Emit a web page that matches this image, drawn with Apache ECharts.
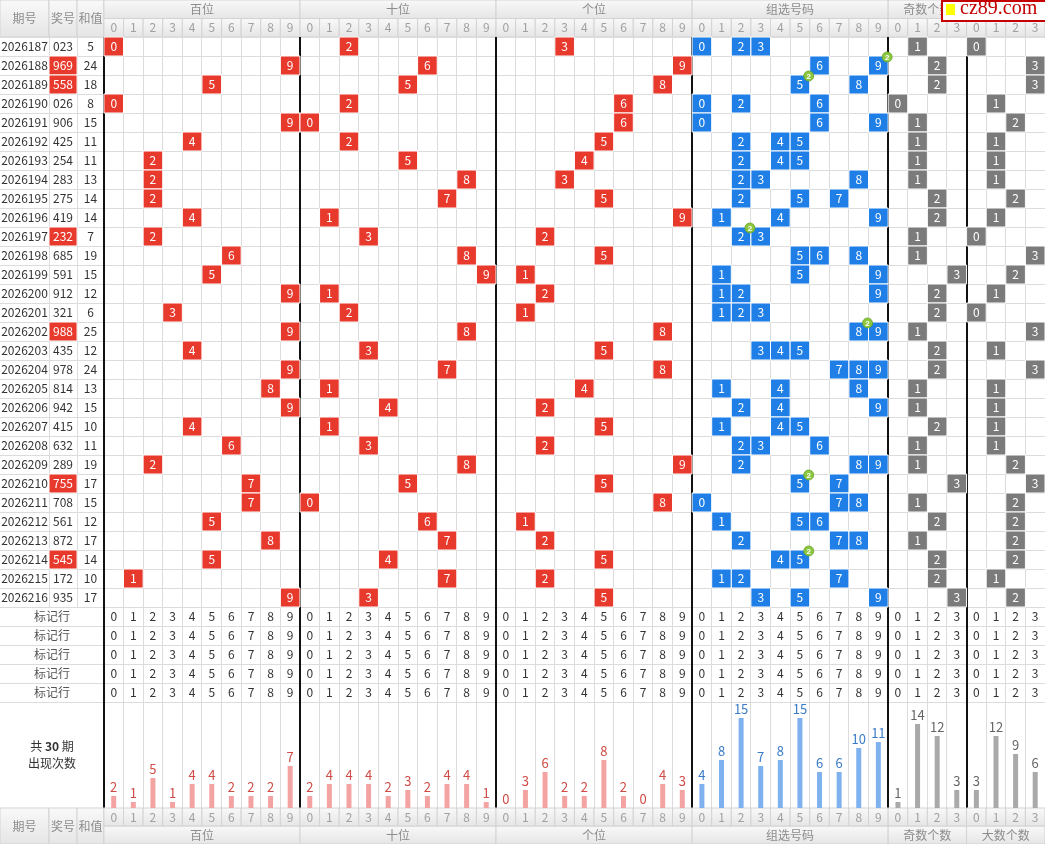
<!DOCTYPE html>
<html>
<head>
<meta charset="utf-8">
<script src="https://cdn.jsdelivr.net/npm/echarts@6/dist/echarts.min.js"></script>
<style>html,body{margin:0;padding:0;background:#fff}#c{width:1045px;height:844px}</style>
</head>
<body>
<div id="c"></div>
<script>
// ---------------- data ----------------
const issues = ['2026187','2026188','2026189','2026190','2026191','2026192','2026193','2026194','2026195','2026196','2026197','2026198','2026199','2026200','2026201','2026202','2026203','2026204','2026205','2026206','2026207','2026208','2026209','2026210','2026211','2026212','2026213','2026214','2026215','2026216'];
const draws = ['023','969','558','026','906','425','254','283','275','419','232','685','591','912','321','988','435','978','814','942','415','632','289','755','708','561','872','545','172','935'];
const sums = [5,24,18,8,15,11,11,13,14,14,7,19,15,12,6,25,12,24,13,15,10,11,19,17,15,12,17,14,10,17];
const groupNames = ['百位','十位','个位','组选号码','奇数个数','大数个数'];
const digitLabels10 = ['0','1','2','3','4','5','6','7','8','9'];
const digitLabels4 = ['0','1','2','3'];
const leftHeaders = ['期号','奖号','和值'];
const markRowLabel = '标记行';
const markRowCount = 5;
const totalLabel = '共 {b|30} 期\n出现次数';
const countBai = [2,1,5,1,4,4,2,2,2,7];
const countShi = [2,4,4,4,2,3,2,4,4,1];
const countGe  = [0,3,6,2,2,8,2,0,4,3];
const countZu  = [4,8,15,7,8,15,6,6,10,11];
const countOdd = [1,14,12,3];
const countBig = [3,12,9,6];
const watermark = 'cz89.com';

// ---------------- layout / style ----------------
const F = '"Microsoft YaHei","Noto Sans CJK SC","Noto Sans",sans-serif';
const XMIN = -5.3, XMAX = 48;
const leftCols = [[-5.3,-2.8],[-2.8,-1.37],[-1.37,0]];
const groupLabels = [digitLabels10,digitLabels10,digitLabels10,digitLabels10,digitLabels4,digitLabels4];
const groupStart = [0,10,20,30,40,44];
const groupCounts = [countBai,countShi,countGe,countZu,countOdd,countBig];
const RED = '#e8392d', BLUE = '#1f7fe6', GRAY = '#7b7b7b';
const barColors = ['#f4a3a3','#f4a3a3','#f4a3a3','#7fb1ef','#a9a9a9','#a9a9a9'];
const labelColors = ['#cf4b45','#cf4b45','#cf4b45','#3b7bc8','#666','#666'];
const cellColors = [RED,RED,RED,BLUE,GRAY,GRAY];
const LINE = '#dcdcdc';
const hdrGrad = {type:'linear',x:0,y:0,x2:0,y2:1,colorStops:[{offset:0,color:'#f9f9f9'},{offset:1,color:'#e5e5e5'}]};

// ---------------- build cell lists ----------------
function hdrCell(x0,x1,y0,y1,text,color){
  return {x0,x1,y0,y1,text,bg:hdrGrad,stroke:'#d3d3d3',color:color||'#8c8c8c',font:'12px '+F};
}
const header = [], footer = [];
leftHeaders.forEach((t,i)=>{
  header.push(hdrCell(leftCols[i][0],leftCols[i][1],0,2,t));
  footer.push(hdrCell(leftCols[i][0],leftCols[i][1],0,2,t));
});
groupNames.forEach((name,g)=>{
  const s = groupStart[g], labs = groupLabels[g];
  header.push(hdrCell(s,s+labs.length,0,1,name));
  footer.push(hdrCell(s,s+labs.length,1,2,name));
  labs.forEach((l,k)=>{
    header.push(hdrCell(s+k,s+k+1,1,2,l,'#a0a0a0'));
    footer.push(hdrCell(s+k,s+k+1,0,1,l,'#a0a0a0'));
  });
});

const cells = [], badges = [];
const txt = (x0,x1,y0,y1,text,color,extra)=>Object.assign({x0,x1,y0,y1,text,color:color||'#333',font:'12px '+F},extra||{});
draws.forEach((d,r)=>{
  const ds = d.split('').map(Number);
  const repeated = new Set(ds).size < 3;
  cells.push(txt(leftCols[0][0],leftCols[0][1],r,r+1,issues[r],'#333'));
  cells.push(txt(leftCols[1][0],leftCols[1][1],r,r+1,d,repeated?'#fff':'#333',repeated?{bg:RED,stroke:'#fff'}:{}));
  cells.push(txt(leftCols[2][0],leftCols[2][1],r,r+1,String(sums[r]),'#333'));
  ds.forEach((v,p)=>{
    const c = groupStart[p]+v;
    cells.push(txt(c,c+1,r,r+1,String(v),'#fff',{bg:cellColors[p],stroke:'#fff'}));
  });
  const cnt = {};
  ds.forEach(v=>cnt[v]=(cnt[v]||0)+1);
  Object.keys(cnt).forEach(k=>{
    const v = Number(k), c = groupStart[3]+v;
    cells.push(txt(c,c+1,r,r+1,String(v),'#fff',{bg:BLUE,stroke:'#fff'}));
    if (cnt[k]>1) badges.push({x0:c,x1:c+1,y0:r,y1:r+1,text:String(cnt[k])});
  });
  const odd = ds.filter(v=>v%2===1).length;
  const big = ds.filter(v=>v>=5).length;
  cells.push(txt(groupStart[4]+odd,groupStart[4]+odd+1,r,r+1,String(odd),'#fff',{bg:GRAY,stroke:'#fff'}));
  cells.push(txt(groupStart[5]+big,groupStart[5]+big+1,r,r+1,String(big),'#fff',{bg:GRAY,stroke:'#fff'}));
});
for (let m=0;m<markRowCount;m++){
  const r = draws.length+m;
  cells.push(txt(XMIN,0,r,r+1,markRowLabel,'#555'));
  groupLabels.forEach((labs,g)=>labs.forEach((l,k)=>{
    const c = groupStart[g]+k;
    cells.push(txt(c,c+1,r,r+1,l,'#333'));
  }));
}
const ROWS = draws.length+markRowCount;

const lines1 = [], lines2 = [];
for (let y=0;y<=ROWS;y++) lines1.push({x0:XMIN,x1:XMAX,y0:y,y1:y,c:LINE,w:1});
lines1.push({x0:leftCols[1][0],x1:leftCols[1][0],y0:0,y1:draws.length,c:LINE,w:1});
lines1.push({x0:leftCols[2][0],x1:leftCols[2][0],y0:0,y1:draws.length,c:LINE,w:1});
const SMAX = 106/6;
for (let c=1;c<48;c++){
  if (groupStart.indexOf(c)>=0) continue;
  lines1.push({x0:c,x1:c,y0:0,y1:ROWS,c:LINE,w:1});
  lines2.push({x0:c,x1:c,y0:0,y1:SMAX,c:LINE,w:1});
}
groupStart.forEach(c=>{
  lines1.push({x0:c,x1:c,y0:0,y1:ROWS,c:'#111',w:2});
  lines2.push({x0:c,x1:c,y0:0,y1:SMAX,c:'#111',w:2});
});
const statCells = [{x0:XMIN,x1:0,y0:0,y1:SMAX,text:totalLabel,color:'#333',font:'12px '+F,lh:17,rich:{b:{fontWeight:'bold',fontSize:12,fontFamily:F,color:'#333'}}}];

// ---------------- renderers ----------------
function rectOf(api){
  const p0 = api.coord([api.value(0),api.value(2)]);
  const p1 = api.coord([api.value(1),api.value(3)]);
  return {x:Math.min(p0[0],p1[0]),y:Math.min(p0[1],p1[1]),w:Math.abs(p1[0]-p0[0]),h:Math.abs(p1[1]-p0[1])};
}
function cellRenderer(list){
  return function(params,api){
    const c = list[params.dataIndex], b = rectOf(api);
    const ch = [];
    if (c.bg) ch.push({type:'rect',shape:{x:b.x,y:b.y,width:b.w,height:b.h},style:{fill:c.bg,stroke:c.stroke||null,lineWidth:1}});
    if (c.text!=null){
      const st = {text:c.text,x:b.x+b.w/2,y:b.y+b.h/2,align:'center',verticalAlign:'middle',textAlign:'center',textVerticalAlign:'middle',fill:c.color,font:c.font};
      if (c.rich){st.rich=c.rich;st.lineHeight=c.lh;st.fontSize=12;st.fontFamily=F;}
      ch.push({type:'text',style:st});
    }
    return {type:'group',children:ch};
  };
}
function badgeRenderer(params,api){
  const c = badges[params.dataIndex], b = rectOf(api);
  const cx = b.x+b.w-1, cy = b.y+1;
  return {type:'group',children:[
    {type:'circle',shape:{cx,cy,r:5},style:{fill:'#8dc63f',stroke:'#6aa52a',lineWidth:0.8}},
    {type:'text',style:{text:c.text,x:cx,y:cy+0.5,align:'center',verticalAlign:'middle',textAlign:'center',textVerticalAlign:'middle',fill:'#fff',font:'bold 8px sans-serif'}}
  ]};
}
function crisp(v,w){return w%2===1?Math.round(v-0.5)+0.5:Math.round(v);}
function lineRenderer(list){
  return function(params,api){
    const l = list[params.dataIndex];
    const p0 = api.coord([api.value(0),api.value(2)]);
    const p1 = api.coord([api.value(1),api.value(3)]);
    let x1=p0[0],y1=p0[1],x2=p1[0],y2=p1[1];
    if (l.x0===l.x1){x1=x2=crisp(x1,l.w);} else {y1=y2=crisp(y1,l.w);}
    return {type:'line',shape:{x1,y1,x2,y2},style:{stroke:l.c,lineWidth:l.w}};
  };
}
const toData = list=>list.map(c=>[c.x0,c.x1,c.y0,c.y1]);
function customSeries(idx,list,render,z){
  return {type:'custom',xAxisIndex:idx,yAxisIndex:idx,coordinateSystem:'cartesian2d',renderItem:render,data:toData(list),clip:false,silent:true,z:z||2,animation:false};
}

const barData = [];
groupCounts.forEach((arr,g)=>arr.forEach((v,k)=>{
  barData.push({value:[groupStart[g]+k+0.5,v],itemStyle:{color:barColors[g]},label:{color:labelColors[g]}});
}));

const option = {
  animation:false,
  grid:[
    {left:0,top:0,width:1045,height:37},
    {left:0,top:37,width:1045,height:665},
    {left:0,top:702,width:1045,height:106},
    {left:0,top:808,width:1045,height:36}
  ],
  xAxis:[0,1,2,3].map(i=>({type:'value',gridIndex:i,min:XMIN,max:XMAX,show:false})),
  yAxis:[
    {type:'value',gridIndex:0,min:0,max:2,inverse:true,show:false},
    {type:'value',gridIndex:1,min:0,max:ROWS,inverse:true,show:false},
    {type:'value',gridIndex:2,min:0,max:SMAX,show:false},
    {type:'value',gridIndex:3,min:0,max:2,inverse:true,show:false}
  ],
  series:[
    customSeries(0,header,cellRenderer(header),2),
    customSeries(1,lines1,lineRenderer(lines1),2),
    customSeries(1,cells,cellRenderer(cells),3),
    customSeries(1,badges,badgeRenderer,4),
    customSeries(2,lines2,lineRenderer(lines2),2),
    customSeries(2,statCells,cellRenderer(statCells),3),
    {type:'bar',xAxisIndex:2,yAxisIndex:2,barWidth:5,data:barData,silent:true,z:3,
     label:{show:true,position:'top',distance:2,fontSize:13,fontFamily:F,formatter:p=>String(p.value[1])}},
    customSeries(3,footer,cellRenderer(footer),2)
  ],
  graphic:[
    {type:'rect',left:941,top:0,z:100,shape:{width:104,height:20},style:{fill:'#fff',stroke:'#c40000',lineWidth:2}},
    {type:'rect',left:946,top:4,z:101,shape:{width:9,height:11},style:{fill:'#ffff00'}},
    {type:'text',left:960,top:-1,z:101,style:{text:watermark,fill:'#c40000',font:'20px "Liberation Serif","DejaVu Serif",serif'}}
  ]
};
const chart = echarts.init(document.getElementById('c'),null,{renderer:'canvas'});
chart.setOption(option);
</script>
</body>
</html>
